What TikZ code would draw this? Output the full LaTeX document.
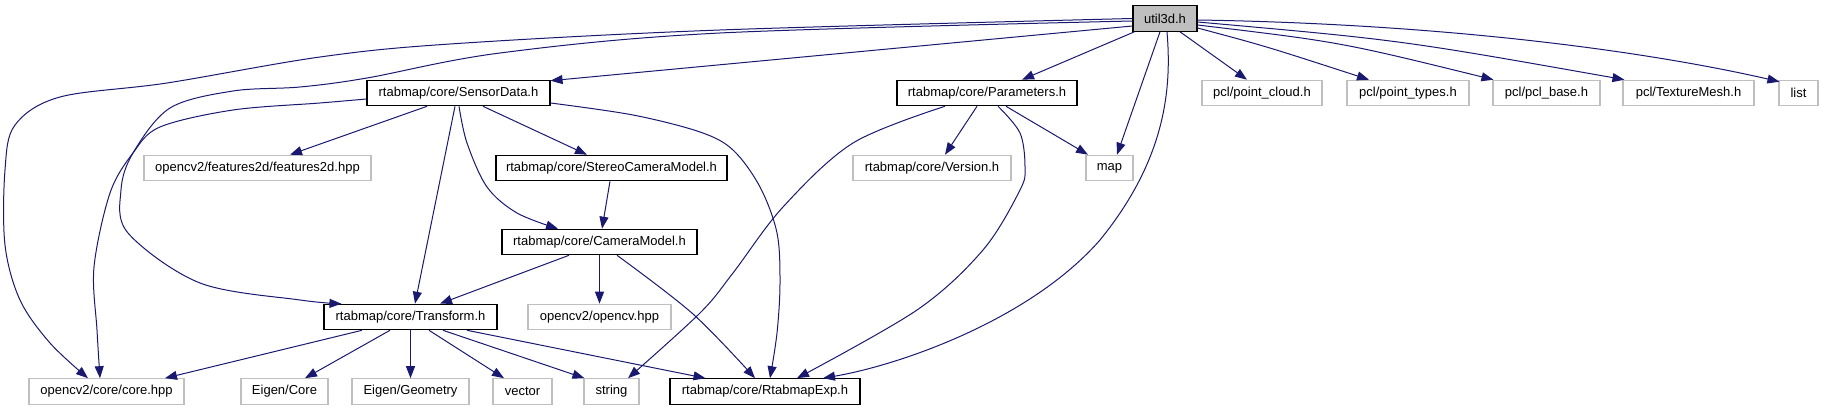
\documentclass[tikz,border=0pt]{standalone}
\usepackage{fontspec}
\setmainfont{Liberation Sans}
\usetikzlibrary{arrows.meta}
\definecolor{edgecol}{HTML}{191970}
\definecolor{greyb}{HTML}{BFBFBF}
\begin{document}
\begin{tikzpicture}[x=1pt,y=-1pt,
  gnode/.style={draw=black, line width=1.1pt, rectangle, minimum height=25.5pt, inner sep=0pt, font=\fontsize{13}{15}\selectfont, text=black},
  gnodeg/.style={gnode, draw=greyb},
  edge/.style={draw=edgecol, line width=1pt, -{Triangle[length=12pt,width=9pt]}, fill=none},
  sm/.style={smooth, tension=0.55}]
\useasboundingbox (0,0) rectangle (1823,411);
% nodes
\node[gnode, fill=greyb, minimum width=64pt] (u3d) at (1165,18.5) {util3d.h};
\node[gnode, minimum width=183pt] (sd) at (458.5,93) {rtabmap/core/SensorData.h};
\node[gnode, minimum width=180pt] (par) at (987,93) {rtabmap/core/Parameters.h};
\node[gnodeg, minimum width=120pt] (pc) at (1262,93) {pcl/point\_cloud.h};
\node[gnodeg, minimum width=122pt] (pt) at (1408,93) {pcl/point\_types.h};
\node[gnodeg, minimum width=107pt] (pb) at (1546.5,93) {pcl/pcl\_base.h};
\node[gnodeg, minimum width=131pt] (tm) at (1688.5,93) {pcl/TextureMesh.h};
\node[gnodeg, minimum width=39pt] (lst) at (1798.5,93) {list};
\node[gnodeg, minimum width=227pt] (f2d) at (257.5,168) {opencv2/features2d/features2d.hpp};
\node[gnode, minimum width=231pt] (scm) at (611.5,168) {rtabmap/core/StereoCameraModel.h};
\node[gnodeg, minimum width=158pt] (ver) at (932,168) {rtabmap/core/Version.h};
\node[gnodeg, minimum width=47pt] (map) at (1109.5,168) {map};
\node[gnode, minimum width=195pt] (cm) at (599.5,242) {rtabmap/core/CameraModel.h};
\node[gnode, minimum width=173pt] (tf) at (410.5,317) {rtabmap/core/Transform.h};
\node[gnodeg, minimum width=143pt] (ocv) at (599.5,317) {opencv2/opencv.hpp};
\node[gnodeg, minimum width=155pt] (core) at (106.5,391.5) {opencv2/core/core.hpp};
\node[gnodeg, minimum width=87pt] (ec) at (284.5,391.5) {Eigen/Core};
\node[gnodeg, minimum width=117pt] (eg) at (410.5,391.5) {Eigen/Geometry};
\node[gnodeg, minimum width=59pt] (vec) at (522.5,391.5) {vector};
\node[gnodeg, minimum width=55pt] (str) at (611.5,391.5) {string};
\node[gnode, minimum width=190pt] (rex) at (765,391.5) {rtabmap/core/RtabmapExp.h};
% edges from util3d
\draw[edge] ([shift={(0,7.5)}]u3d.west) -- ([shift={(0,1)}]sd.north east);
\draw[edge] ([shift={(2,0)}]u3d.south west) -- ([shift={(35,0)}]par.north);
\draw[edge] ([shift={(-5,0)}]u3d.south) -- ([shift={(7.5,0)}]map.north);
\draw[edge] ([shift={(2,0)}]u3d.south) .. controls (1172,90) and (1165,160) .. (1100,240)
  .. controls (1030,320) and (900,365) .. ([shift={(58,0)}]rex.north);
\draw[edge] ([shift={(15,0)}]u3d.south) -- ([shift={(-15,0)}]pc.north);
\draw[edge] ([shift={(0,9.5)}]u3d.east) .. controls (1265,46) .. ([shift={(-39,0)}]pt.north);
\draw[edge] ([shift={(0,6.5)}]u3d.east) .. controls (1340,42) .. ([shift={(1,0)}]pb.north west);
\draw[edge] ([shift={(0,3.5)}]u3d.east) .. controls (1400,40) .. ([shift={(2,0)}]tm.north west);
\draw[edge] ([shift={(0,1.5)}]u3d.east) .. controls (1450,24) and (1650,52) .. ([shift={(1,2)}]lst.north west);
\draw[edge] plot[sm] coordinates {(u3d.west) (720,30) (450,44) (320,57) (167,83) (60,97) (15,125) (5,170) (5,245) (20,300) (50,343) ([shift={(-18.5,0)}]core.north)};
\draw[edge] plot[sm] coordinates {([shift={(0,2.5)}]u3d.west) (720,33) (500,53) (367,78) (300,87) (233,91) (170,108) (133,153) (121,190) (128,233) (200,283) (300,300) ([shift={(18,0)}]tf.north west)};
% edges from SensorData
\draw[edge] plot[sm] coordinates {([shift={(0,6)}]sd.west) (320,103) (233,110) (160,127) (133,153) (110,193) (94,267) (97,330) ([shift={(-6.5,0)}]core.north)};
\draw[edge] ([shift={(-31.5,0)}]sd.south) -- ([shift={(32.5,0)}]f2d.north);
\draw[edge] ([shift={(-3.5,0)}]sd.south) -- ([shift={(4.5,0)}]tf.north);
\draw[edge] plot[sm] coordinates {([shift={(0.5,0)}]sd.south) (467,143) (487,187) (517,213) ([shift={(-41.5,0)}]cm.north)};
\draw[edge] ([shift={(24.5,0)}]sd.south) -- ([shift={(-24.5,0)}]scm.north);
\draw[edge] plot[sm] coordinates {([shift={(0,10)}]sd.east) (633,115) (700,132) (733,150) (760,187) (777,233) (780,283) (777,333) ([shift={(5,0)}]rex.north)};
% edges from Parameters
\draw[edge] plot[sm] coordinates {([shift={(-42,0)}]par.south) (853,143) (783,207) (733,273) (700,313) ([shift={(16.5,0)}]str.north)};
\draw[edge] plot[sm] coordinates {([shift={(11,0)}]par.south) (1020,133) (1025,167) (1020,190) (983,250) (917,310) ([shift={(32,0)}]rex.north)};
\draw[edge] ([shift={(-10,0)}]par.south) -- ([shift={(13,0)}]ver.north);
\draw[edge] ([shift={(19,0)}]par.south) -- ([shift={(-21.5,0)}]map.north);
% Stereo / Camera
\draw[edge] ([shift={(-1.5,0)}]scm.south) -- ([shift={(2.5,0)}]cm.north);
\draw[edge] ([shift={(-30.5,0)}]cm.south) -- ([shift={(29.5,0)}]tf.north);
\draw[edge] (cm.south) -- (ocv.north);
\draw[edge] plot[sm] coordinates {([shift={(17.5,0)}]cm.south) (693,314) ([shift={(-10,0)}]rex.north)};
% Transform
\draw[edge] ([shift={(-48.5,0)}]tf.south) -- ([shift={(58.5,0)}]core.north);
\draw[edge] ([shift={(-20.5,0)}]tf.south) -- ([shift={(20.5,0)}]ec.north);
\draw[edge] (tf.south) -- (eg.north);
\draw[edge] ([shift={(18.5,0)}]tf.south) -- ([shift={(-18.5,0)}]vec.north);
\draw[edge] ([shift={(32.5,0)}]tf.south) -- ([shift={(1,0)}]str.north west);
\draw[edge] ([shift={(56.5,0)}]tf.south) -- ([shift={(36,0)}]rex.north west);
\end{tikzpicture}
\end{document}
